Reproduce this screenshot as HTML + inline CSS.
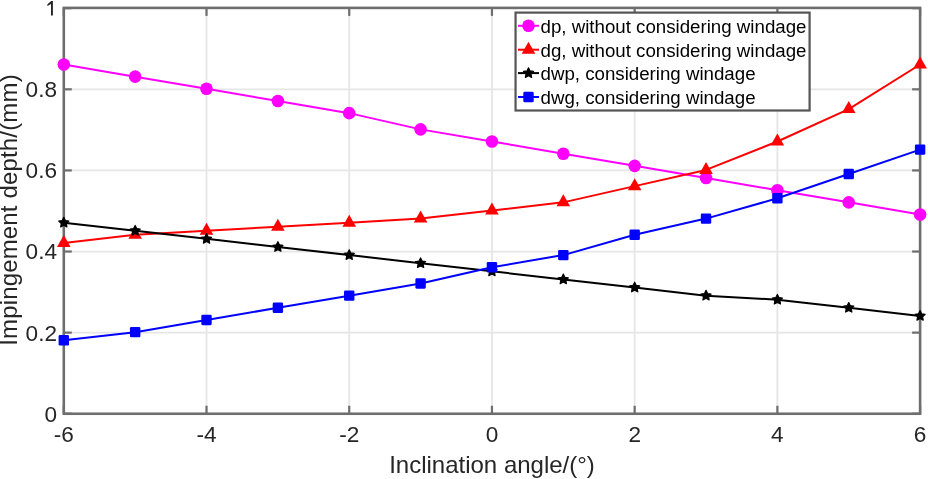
<!DOCTYPE html>
<html><head><meta charset="utf-8"><style>
html,body{margin:0;padding:0;background:#fff;}
body{width:928px;height:479px;overflow:hidden;font-family:"Liberation Sans", sans-serif;}
svg{display:block;will-change:transform}
</style></head><body>
<svg width="928" height="479" viewBox="0 0 928 479">
<rect width="928" height="479" fill="#fff"/>
<line x1="206.52" y1="8.2" x2="206.52" y2="413.75" stroke="#e6e6e6" stroke-width="1.8"/>
<line x1="349.23" y1="8.2" x2="349.23" y2="413.75" stroke="#e6e6e6" stroke-width="1.8"/>
<line x1="491.95" y1="8.2" x2="491.95" y2="413.75" stroke="#e6e6e6" stroke-width="1.8"/>
<line x1="634.67" y1="8.2" x2="634.67" y2="413.75" stroke="#e6e6e6" stroke-width="1.8"/>
<line x1="777.38" y1="8.2" x2="777.38" y2="413.75" stroke="#e6e6e6" stroke-width="1.8"/>
<line x1="63.8" y1="332.64" x2="920.1" y2="332.64" stroke="#e6e6e6" stroke-width="1.8"/>
<line x1="63.8" y1="251.53" x2="920.1" y2="251.53" stroke="#e6e6e6" stroke-width="1.8"/>
<line x1="63.8" y1="170.42" x2="920.1" y2="170.42" stroke="#e6e6e6" stroke-width="1.8"/>
<line x1="63.8" y1="89.31" x2="920.1" y2="89.31" stroke="#e6e6e6" stroke-width="1.8"/>
<line x1="63.80" y1="413.75" x2="63.80" y2="405.75" stroke="#6e6e6e" stroke-width="2.21"/>
<line x1="63.80" y1="7.8999999999999995" x2="63.80" y2="15.899999999999999" stroke="#6e6e6e" stroke-width="2.21"/>
<line x1="206.52" y1="413.75" x2="206.52" y2="405.75" stroke="#6e6e6e" stroke-width="2.21"/>
<line x1="206.52" y1="7.8999999999999995" x2="206.52" y2="15.899999999999999" stroke="#6e6e6e" stroke-width="2.21"/>
<line x1="349.23" y1="413.75" x2="349.23" y2="405.75" stroke="#6e6e6e" stroke-width="2.21"/>
<line x1="349.23" y1="7.8999999999999995" x2="349.23" y2="15.899999999999999" stroke="#6e6e6e" stroke-width="2.21"/>
<line x1="491.95" y1="413.75" x2="491.95" y2="405.75" stroke="#6e6e6e" stroke-width="2.21"/>
<line x1="491.95" y1="7.8999999999999995" x2="491.95" y2="15.899999999999999" stroke="#6e6e6e" stroke-width="2.21"/>
<line x1="634.67" y1="413.75" x2="634.67" y2="405.75" stroke="#6e6e6e" stroke-width="2.21"/>
<line x1="634.67" y1="7.8999999999999995" x2="634.67" y2="15.899999999999999" stroke="#6e6e6e" stroke-width="2.21"/>
<line x1="777.38" y1="413.75" x2="777.38" y2="405.75" stroke="#6e6e6e" stroke-width="2.21"/>
<line x1="777.38" y1="7.8999999999999995" x2="777.38" y2="15.899999999999999" stroke="#6e6e6e" stroke-width="2.21"/>
<line x1="920.10" y1="413.75" x2="920.10" y2="405.75" stroke="#6e6e6e" stroke-width="2.21"/>
<line x1="920.10" y1="7.8999999999999995" x2="920.10" y2="15.899999999999999" stroke="#6e6e6e" stroke-width="2.21"/>
<line x1="63.8" y1="413.75" x2="71.8" y2="413.75" stroke="#6e6e6e" stroke-width="2.21"/>
<line x1="920.1" y1="413.75" x2="912.1" y2="413.75" stroke="#6e6e6e" stroke-width="2.21"/>
<line x1="63.8" y1="332.64" x2="71.8" y2="332.64" stroke="#6e6e6e" stroke-width="2.21"/>
<line x1="920.1" y1="332.64" x2="912.1" y2="332.64" stroke="#6e6e6e" stroke-width="2.21"/>
<line x1="63.8" y1="251.53" x2="71.8" y2="251.53" stroke="#6e6e6e" stroke-width="2.21"/>
<line x1="920.1" y1="251.53" x2="912.1" y2="251.53" stroke="#6e6e6e" stroke-width="2.21"/>
<line x1="63.8" y1="170.42" x2="71.8" y2="170.42" stroke="#6e6e6e" stroke-width="2.21"/>
<line x1="920.1" y1="170.42" x2="912.1" y2="170.42" stroke="#6e6e6e" stroke-width="2.21"/>
<line x1="63.8" y1="89.31" x2="71.8" y2="89.31" stroke="#6e6e6e" stroke-width="2.21"/>
<line x1="920.1" y1="89.31" x2="912.1" y2="89.31" stroke="#6e6e6e" stroke-width="2.21"/>
<line x1="63.8" y1="8.20" x2="71.8" y2="8.20" stroke="#6e6e6e" stroke-width="2.21"/>
<line x1="920.1" y1="8.20" x2="912.1" y2="8.20" stroke="#6e6e6e" stroke-width="2.21"/>
<rect x="63.8" y="7.9" width="856.3000000000001" height="405.85" fill="none" stroke="#6e6e6e" stroke-width="2.6"/>
<polyline points="63.80,64.48 135.16,76.64 206.52,88.81 277.88,100.98 349.23,113.14 420.59,129.37 491.95,141.53 563.31,153.70 634.67,165.86 706.02,178.03 777.38,190.20 848.74,202.36 920.10,214.53" fill="none" stroke="#ff00ff" stroke-width="2.0" stroke-linejoin="round"/>
<circle cx="63.80" cy="64.48" r="6.3" fill="#ff00ff"/>
<circle cx="135.16" cy="76.64" r="6.3" fill="#ff00ff"/>
<circle cx="206.52" cy="88.81" r="6.3" fill="#ff00ff"/>
<circle cx="277.88" cy="100.98" r="6.3" fill="#ff00ff"/>
<circle cx="349.23" cy="113.14" r="6.3" fill="#ff00ff"/>
<circle cx="420.59" cy="129.37" r="6.3" fill="#ff00ff"/>
<circle cx="491.95" cy="141.53" r="6.3" fill="#ff00ff"/>
<circle cx="563.31" cy="153.70" r="6.3" fill="#ff00ff"/>
<circle cx="634.67" cy="165.86" r="6.3" fill="#ff00ff"/>
<circle cx="706.02" cy="178.03" r="6.3" fill="#ff00ff"/>
<circle cx="777.38" cy="190.20" r="6.3" fill="#ff00ff"/>
<circle cx="848.74" cy="202.36" r="6.3" fill="#ff00ff"/>
<circle cx="920.10" cy="214.53" r="6.3" fill="#ff00ff"/>
<polyline points="63.80,242.92 135.16,234.81 206.52,230.75 277.88,226.70 349.23,222.64 420.59,218.59 491.95,210.47 563.31,202.36 634.67,186.14 706.02,169.92 777.38,141.53 848.74,109.09 920.10,64.48" fill="none" stroke="#ff0000" stroke-width="2.0" stroke-linejoin="round"/>
<polygon points="63.80,234.92 57.00,246.92 70.60,246.92" fill="#ff0000"/>
<polygon points="135.16,226.81 128.36,238.81 141.96,238.81" fill="#ff0000"/>
<polygon points="206.52,222.75 199.72,234.75 213.32,234.75" fill="#ff0000"/>
<polygon points="277.88,218.70 271.07,230.70 284.68,230.70" fill="#ff0000"/>
<polygon points="349.23,214.64 342.43,226.64 356.03,226.64" fill="#ff0000"/>
<polygon points="420.59,210.59 413.79,222.59 427.39,222.59" fill="#ff0000"/>
<polygon points="491.95,202.47 485.15,214.47 498.75,214.47" fill="#ff0000"/>
<polygon points="563.31,194.36 556.51,206.36 570.11,206.36" fill="#ff0000"/>
<polygon points="634.67,178.14 627.87,190.14 641.47,190.14" fill="#ff0000"/>
<polygon points="706.02,161.92 699.23,173.92 712.82,173.92" fill="#ff0000"/>
<polygon points="777.38,133.53 770.58,145.53 784.18,145.53" fill="#ff0000"/>
<polygon points="848.74,101.09 841.94,113.09 855.54,113.09" fill="#ff0000"/>
<polygon points="920.10,56.48 913.30,68.48 926.90,68.48" fill="#ff0000"/>
<polyline points="63.80,222.64 135.16,230.75 206.52,238.86 277.88,246.97 349.23,255.09 420.59,263.20 491.95,271.31 563.31,279.42 634.67,287.53 706.02,295.64 777.38,299.70 848.74,307.81 920.10,315.92" fill="none" stroke="#000000" stroke-width="2.0" stroke-linejoin="round"/>
<polygon points="63.80,217.34 65.36,220.50 68.84,221.00 66.32,223.46 66.92,226.93 63.80,225.29 60.68,226.93 61.28,223.46 58.76,221.00 62.24,220.50" fill="#000000" stroke="#000000" stroke-width="1.2" stroke-linejoin="round"/>
<polygon points="135.16,225.45 136.72,228.61 140.20,229.11 137.68,231.57 138.27,235.04 135.16,233.40 132.04,235.04 132.64,231.57 130.12,229.11 133.60,228.61" fill="#000000" stroke="#000000" stroke-width="1.2" stroke-linejoin="round"/>
<polygon points="206.52,233.56 208.07,236.72 211.56,237.23 209.04,239.68 209.63,243.15 206.52,241.51 203.40,243.15 204.00,239.68 201.48,237.23 204.96,236.72" fill="#000000" stroke="#000000" stroke-width="1.2" stroke-linejoin="round"/>
<polygon points="277.88,241.67 279.43,244.83 282.92,245.34 280.40,247.79 280.99,251.26 277.88,249.62 274.76,251.26 275.35,247.79 272.83,245.34 276.32,244.83" fill="#000000" stroke="#000000" stroke-width="1.2" stroke-linejoin="round"/>
<polygon points="349.23,249.79 350.79,252.94 354.27,253.45 351.75,255.90 352.35,259.37 349.23,257.74 346.12,259.37 346.71,255.90 344.19,253.45 347.68,252.94" fill="#000000" stroke="#000000" stroke-width="1.2" stroke-linejoin="round"/>
<polygon points="420.59,257.90 422.15,261.05 425.63,261.56 423.11,264.02 423.71,267.48 420.59,265.85 417.48,267.48 418.07,264.02 415.55,261.56 419.03,261.05" fill="#000000" stroke="#000000" stroke-width="1.2" stroke-linejoin="round"/>
<polygon points="491.95,266.01 493.51,269.16 496.99,269.67 494.47,272.13 495.07,275.60 491.95,273.96 488.83,275.60 489.43,272.13 486.91,269.67 490.39,269.16" fill="#000000" stroke="#000000" stroke-width="1.2" stroke-linejoin="round"/>
<polygon points="563.31,274.12 564.87,277.27 568.35,277.78 565.83,280.24 566.42,283.71 563.31,282.07 560.19,283.71 560.79,280.24 558.27,277.78 561.75,277.27" fill="#000000" stroke="#000000" stroke-width="1.2" stroke-linejoin="round"/>
<polygon points="634.67,282.23 636.22,285.39 639.71,285.89 637.19,288.35 637.78,291.82 634.67,290.18 631.55,291.82 632.15,288.35 629.63,285.89 633.11,285.39" fill="#000000" stroke="#000000" stroke-width="1.2" stroke-linejoin="round"/>
<polygon points="706.02,290.34 707.58,293.50 711.07,294.00 708.55,296.46 709.14,299.93 706.02,298.29 702.91,299.93 703.50,296.46 700.98,294.00 704.47,293.50" fill="#000000" stroke="#000000" stroke-width="1.2" stroke-linejoin="round"/>
<polygon points="777.38,294.40 778.94,297.55 782.42,298.06 779.90,300.51 780.50,303.98 777.38,302.35 774.27,303.98 774.86,300.51 772.34,298.06 775.83,297.55" fill="#000000" stroke="#000000" stroke-width="1.2" stroke-linejoin="round"/>
<polygon points="848.74,302.51 850.30,305.66 853.78,306.17 851.26,308.63 851.86,312.09 848.74,310.46 845.63,312.09 846.22,308.63 843.70,306.17 847.18,305.66" fill="#000000" stroke="#000000" stroke-width="1.2" stroke-linejoin="round"/>
<polygon points="920.10,310.62 921.66,313.77 925.14,314.28 922.62,316.74 923.22,320.21 920.10,318.57 916.98,320.21 917.58,316.74 915.06,314.28 918.54,313.77" fill="#000000" stroke="#000000" stroke-width="1.2" stroke-linejoin="round"/>
<polyline points="63.80,340.25 135.16,332.14 206.52,319.97 277.88,307.81 349.23,295.64 420.59,283.47 491.95,267.25 563.31,255.09 634.67,234.81 706.02,218.59 777.38,198.31 848.74,173.98 920.10,149.64" fill="none" stroke="#0000ff" stroke-width="2.0" stroke-linejoin="round"/>
<rect x="58.60" y="335.05" width="10.4" height="10.4" rx="1.3" fill="#0000ff"/>
<rect x="129.96" y="326.94" width="10.4" height="10.4" rx="1.3" fill="#0000ff"/>
<rect x="201.32" y="314.77" width="10.4" height="10.4" rx="1.3" fill="#0000ff"/>
<rect x="272.68" y="302.61" width="10.4" height="10.4" rx="1.3" fill="#0000ff"/>
<rect x="344.03" y="290.44" width="10.4" height="10.4" rx="1.3" fill="#0000ff"/>
<rect x="415.39" y="278.27" width="10.4" height="10.4" rx="1.3" fill="#0000ff"/>
<rect x="486.75" y="262.05" width="10.4" height="10.4" rx="1.3" fill="#0000ff"/>
<rect x="558.11" y="249.89" width="10.4" height="10.4" rx="1.3" fill="#0000ff"/>
<rect x="629.47" y="229.61" width="10.4" height="10.4" rx="1.3" fill="#0000ff"/>
<rect x="700.82" y="213.39" width="10.4" height="10.4" rx="1.3" fill="#0000ff"/>
<rect x="772.18" y="193.11" width="10.4" height="10.4" rx="1.3" fill="#0000ff"/>
<rect x="843.54" y="168.78" width="10.4" height="10.4" rx="1.3" fill="#0000ff"/>
<rect x="914.90" y="144.44" width="10.4" height="10.4" rx="1.3" fill="#0000ff"/>
<text x="63.80" y="441.7" font-family="Liberation Sans, sans-serif" font-size="22.6" fill="#262626" text-anchor="middle">-6</text>
<text x="206.52" y="441.7" font-family="Liberation Sans, sans-serif" font-size="22.6" fill="#262626" text-anchor="middle">-4</text>
<text x="349.23" y="441.7" font-family="Liberation Sans, sans-serif" font-size="22.6" fill="#262626" text-anchor="middle">-2</text>
<text x="491.95" y="441.7" font-family="Liberation Sans, sans-serif" font-size="22.6" fill="#262626" text-anchor="middle">0</text>
<text x="634.67" y="441.7" font-family="Liberation Sans, sans-serif" font-size="22.6" fill="#262626" text-anchor="middle">2</text>
<text x="777.38" y="441.7" font-family="Liberation Sans, sans-serif" font-size="22.6" fill="#262626" text-anchor="middle">4</text>
<text x="920.10" y="441.7" font-family="Liberation Sans, sans-serif" font-size="22.6" fill="#262626" text-anchor="middle">6</text>
<polygon points="51.2,0.9 52.9,0.9 52.9,15.6 51.0,15.6 51.0,4.1 47.4,6.0 47.4,4.3" fill="#262626"/>
<text x="57" y="421.65" font-family="Liberation Sans, sans-serif" font-size="22.6" fill="#262626" text-anchor="end">0</text>
<text x="57" y="340.54" font-family="Liberation Sans, sans-serif" font-size="22.6" fill="#262626" text-anchor="end">0.2</text>
<text x="57" y="259.43" font-family="Liberation Sans, sans-serif" font-size="22.6" fill="#262626" text-anchor="end">0.4</text>
<text x="57" y="178.32" font-family="Liberation Sans, sans-serif" font-size="22.6" fill="#262626" text-anchor="end">0.6</text>
<text x="57" y="97.21" font-family="Liberation Sans, sans-serif" font-size="22.6" fill="#262626" text-anchor="end">0.8</text>
<text x="492.0" y="472.7" font-family="Liberation Sans, sans-serif" font-size="24" fill="#262626" text-anchor="middle">Inclination angle/(°)</text>
<text transform="translate(17.4,210.0) rotate(-90)" x="0" y="0" font-family="Liberation Sans, sans-serif" font-size="24" letter-spacing="0.16" fill="#262626" text-anchor="middle">Impingement depth/(mm)</text>
<rect x="515.55" y="12.6" width="294.05000000000007" height="97.9" fill="#ffffff" stroke="#555" stroke-width="2.2"/>
<line x1="518" y1="25.8" x2="539" y2="25.8" stroke="#ff00ff" stroke-width="2.0"/>
<circle cx="528.50" cy="25.80" r="6.3" fill="#ff00ff"/>
<text x="540.5" y="32.80" font-family="Liberation Sans, sans-serif" font-size="18.7" fill="#000">dp, without considering windage</text>
<line x1="518" y1="49.7" x2="539" y2="49.7" stroke="#ff0000" stroke-width="2.0"/>
<polygon points="528.50,41.70 521.70,53.70 535.30,53.70" fill="#ff0000"/>
<text x="540.5" y="56.70" font-family="Liberation Sans, sans-serif" font-size="18.7" fill="#000">dg, without considering windage</text>
<line x1="518" y1="73.1" x2="539" y2="73.1" stroke="#000000" stroke-width="2.0"/>
<polygon points="528.50,67.80 530.06,70.96 533.54,71.46 531.02,73.92 531.62,77.39 528.50,75.75 525.38,77.39 525.98,73.92 523.46,71.46 526.94,70.96" fill="#000000" stroke="#000000" stroke-width="1.2" stroke-linejoin="round"/>
<text x="540.5" y="80.10" font-family="Liberation Sans, sans-serif" font-size="18.7" fill="#000">dwp, considering windage</text>
<line x1="518" y1="97.0" x2="539" y2="97.0" stroke="#0000ff" stroke-width="2.0"/>
<rect x="523.30" y="91.80" width="10.4" height="10.4" rx="1.3" fill="#0000ff"/>
<text x="540.5" y="104.00" font-family="Liberation Sans, sans-serif" font-size="18.7" fill="#000">dwg, considering windage</text>
</svg>
</body></html>
